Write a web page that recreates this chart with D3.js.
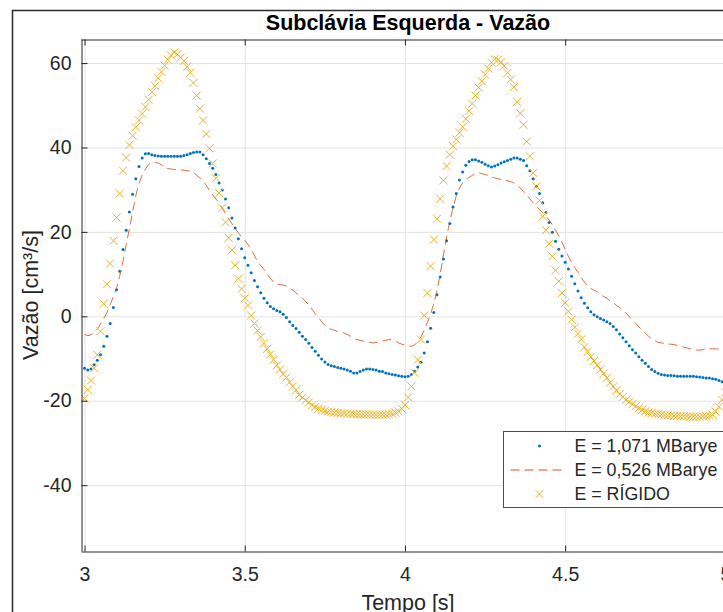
<!DOCTYPE html>
<html>
<head>
<meta charset="utf-8">
<script src="https://cdn.jsdelivr.net/npm/d3@7/dist/d3.min.js"></script>
<style>
  body { margin: 0; background: #fff; }
  svg { display: block; font-family: "Liberation Sans", Arial, Helvetica, sans-serif; }
</style>
</head>
<body>
<div id="chart"></div>
<script>
// sampling of the time axis [s]
var tStart = 3.0;
var tStep = 0.01;

// series values, one value per sample (3.00 .. 5.00 s)
var flowE1071 = [
  -12.3, -12.7, -12.5, -11.5, -10.4, -9.1, -7.1, -4.7, -1.7, 2.1,
  6.3, 10.7, 15.8, 20.4, 24.7, 28.9, 32.6, 35.5, 37.5, 38.5,
  38.6, 38.3, 38.1, 38.0, 37.9, 37.9, 37.9, 37.9, 37.9, 37.9,
  37.9, 38.1, 38.3, 38.6, 38.8, 38.9, 38.9, 38.3, 37.3, 36.2,
  35.1, 33.6, 31.6, 29.9, 27.8, 25.7, 23.3, 20.9, 18.4, 16.0,
  13.9, 12.1, 10.3, 8.5, 7.0, 5.6, 4.3, 3.2, 2.3, 1.8,
  1.4, 1.1, 0.5, -0.3, -1.3, -2.2, -2.9, -3.8, -4.7, -5.5,
  -6.4, -7.4, -8.3, -9.2, -10.1, -10.8, -11.4, -11.7, -11.9, -12.1,
  -12.3, -12.5, -12.7, -13.0, -13.4, -13.4, -13.1, -12.7, -12.5, -12.5,
  -12.6, -12.7, -13.0, -13.1, -13.4, -13.6, -13.8, -13.9, -14.1, -14.2,
  -14.3, -14.2, -13.8, -13.0, -12.0, -10.9, -8.7, -6.0, -2.8, 0.9,
  5.1, 9.3, 13.6, 17.9, 22.0, 25.9, 29.1, 32.3, 34.2, 35.8,
  36.7, 37.1, 37.1, 36.8, 36.5, 36.0, 35.7, 35.4, 35.6, 35.9,
  36.3, 36.6, 36.9, 37.2, 37.5, 37.5, 37.2, 36.9, 35.7, 34.5,
  32.6, 30.8, 29.1, 26.9, 24.6, 22.2, 19.9, 17.8, 15.9, 14.3,
  12.8, 11.2, 9.5, 7.7, 6.0, 4.4, 3.1, 2.0, 1.1, 0.4,
  -0.1, -0.5, -0.9, -1.3, -1.7, -2.4, -3.2, -4.2, -5.1, -6.0,
  -7.0, -7.9, -8.7, -9.6, -10.4, -11.1, -11.9, -12.6, -13.1, -13.5,
  -13.8, -13.9, -14.0, -14.0, -14.1, -14.2, -14.2, -14.2, -14.2, -14.2,
  -14.2, -14.3, -14.4, -14.5, -14.6, -14.6, -14.8, -14.9, -15.2, -15.5,
  -15.8
];

var flowE0526 = [
  -4.3, -4.6, -4.4, -3.8, -3.0, -1.8, -0.5, 0.9, 2.7, 4.7,
  6.7, 9.6, 13.0, 17.0, 20.7, 24.7, 28.6, 31.5, 33.4, 34.9,
  36.0, 36.5, 36.5, 36.3, 35.9, 35.3, 35.0, 34.9, 34.8, 34.8,
  34.7, 34.6, 34.5, 34.4, 34.0, 33.4, 32.8, 32.1, 31.0, 29.9,
  28.8, 27.8, 26.9, 25.6, 24.3, 23.1, 22.0, 20.9, 19.8, 18.8,
  18.0, 17.0, 15.9, 14.4, 13.0, 12.0, 11.1, 10.0, 9.0, 8.1,
  7.7, 7.5, 7.4, 7.2, 6.6, 6.2, 5.5, 4.9, 4.3, 3.5,
  2.7, 1.7, 0.6, -0.2, -1.3, -2.1, -2.7, -3.1, -3.3, -3.6,
  -3.7, -4.0, -4.3, -4.7, -5.2, -5.5, -5.7, -5.9, -6.1, -6.2,
  -6.3, -6.2, -6.1, -5.8, -5.7, -5.5, -5.6, -5.9, -6.3, -6.6,
  -6.8, -7.0, -7.1, -6.8, -6.0, -4.9, -3.2, -1.5, 0.5, 3.0,
  6.0, 10.0, 14.5, 18.8, 22.5, 25.7, 28.5, 30.4, 31.6, 32.3,
  32.9, 33.4, 33.8, 34.0, 33.8, 33.6, 33.4, 33.0, 32.8, 32.6,
  32.4, 32.3, 32.1, 31.9, 31.6, 31.0, 30.4, 29.6, 28.8, 27.8,
  26.9, 26.1, 25.3, 24.5, 23.7, 22.8, 21.7, 20.4, 19.1, 17.6,
  15.8, 14.2, 12.8, 11.5, 10.4, 9.2, 8.1, 7.1, 6.6, 6.2,
  5.8, 5.2, 4.7, 4.3, 3.7, 3.2, 2.6, 2.1, 1.5, 0.8,
  -0.1, -0.9, -1.7, -2.5, -3.2, -4.0, -4.7, -5.4, -5.8, -6.2,
  -6.3, -6.4, -6.6, -6.6, -6.7, -6.9, -7.0, -7.3, -7.5, -7.7,
  -7.9, -8.0, -8.0, -7.9, -7.7, -7.7, -7.7, -7.7, -7.8, -7.9,
  -8.0
];

var flowRigid = [
  -19.5, -17.4, -15.2, -12.3, -9.1, -3.5, 3.0, 7.6, 12.5, 17.9,
  23.4, 29.1, 34.5, 37.6, 40.6, 42.8, 44.8, 46.4, 48.0, 49.6,
  51.3, 53.1, 54.6, 56.4, 57.9, 59.4, 60.8, 61.8, 62.5, 62.1,
  61.3, 60.5, 59.1, 57.7, 55.3, 52.3, 49.2, 46.4, 43.2, 39.8,
  36.2, 32.7, 29.2, 25.7, 22.3, 18.6, 15.7, 12.1, 8.9, 6.5,
  4.3, 2.6, 0.2, -1.7, -3.4, -4.9, -6.4, -7.7, -9.0, -10.3,
  -11.6, -12.6, -13.7, -14.5, -15.6, -16.6, -17.5, -18.6, -19.2, -19.9,
  -20.4, -21.1, -21.5, -21.9, -22.2, -22.4, -22.6, -22.7, -22.8, -22.9,
  -23.0, -23.0, -23.1, -23.1, -23.1, -23.2, -23.2, -23.2, -23.2, -23.3,
  -23.3, -23.3, -23.3, -23.3, -23.3, -23.2, -23.1, -22.8, -22.5, -21.9,
  -21.0, -19.2, -16.6, -13.4, -10.3, -5.5, 0.2, 5.5, 11.9, 18.2,
  23.1, 27.8, 32.2, 35.6, 38.3, 40.3, 41.9, 43.5, 44.9, 46.8,
  48.6, 50.4, 52.3, 54.2, 55.7, 57.3, 58.7, 60.1, 60.9, 60.8,
  60.2, 59.3, 57.7, 56.1, 54.3, 50.8, 48.1, 45.4, 41.4, 37.9,
  34.0, 30.8, 27.4, 23.7, 20.4, 17.2, 14.2, 10.9, 8.3, 5.5,
  3.2, 1.2, -0.8, -2.6, -4.1, -5.5, -7.3, -8.4, -9.6, -10.6,
  -11.6, -12.6, -13.6, -14.6, -15.7, -16.6, -17.6, -18.4, -19.1, -19.8,
  -20.3, -20.8, -21.3, -21.8, -22.2, -22.5, -22.8, -22.9, -23.1, -23.2,
  -23.3, -23.4, -23.5, -23.5, -23.6, -23.6, -23.7, -23.7, -23.7, -23.8,
  -23.8, -23.8, -23.8, -23.7, -23.6, -23.5, -23.3, -22.6, -21.4, -19.8,
  -18.0
];

// tick labels
var xTicks = [3, 3.5, 4, 4.5, 5];
var yTicks = [-40, -20, 0, 20, 40, 60];

// legend labels
var seriesNames = ["E = 1,071 MBarye", "E = 0,526 MBarye", "E = RÍGIDO"];

function init() {

    //width and height of the page
    var w = 723;
    var h = 612;

    //plot box (right edge runs past the window, as in the picture)
    var left = 81, right = 735, top = 39, bottom = 551;

    var axisColor = "#262626";
    var gridColor = "#e3e3e3";
    var blue = "#0072BD", orange = "#D95319", yellow = "#EDB120";

    var xScale = d3.scaleLinear().domain([2.989, 5.03]).range([left, right]);
    var yScale = d3.scaleLinear().domain([-55.6, 65.7]).range([bottom, top]);

    //plain hyphen for negative numbers, like the original
    var plainFormat = function (d) { return String(d); };

    //pair each value with its time
    function toPoints(values) {
        return values.map(function (v, i) {
            return { t: tStart + i * tStep, v: v };
        });
    }
    var blueData = toPoints(flowE1071);
    var orangeData = toPoints(flowE0526);
    var yellowData = toPoints(flowRigid);

    var svg = d3.select("#chart")
        .append("svg")
        .attr("width", w)
        .attr("height", h);

    //figure frame
    svg.append("line")
        .attr("x1", 12.5).attr("x2", 12.5).attr("y1", 10).attr("y2", h)
        .attr("stroke", "#2b2b2b").attr("stroke-width", 1.5);
    svg.append("line")
        .attr("x1", 12).attr("x2", w).attr("y1", 10.5).attr("y2", 10.5)
        .attr("stroke", "#2b2b2b").attr("stroke-width", 1.5);

    svg.append("defs").append("clipPath")
        .attr("id", "plotClip")
        .append("rect")
        .attr("x", left).attr("y", top)
        .attr("width", right - left).attr("height", bottom - top);

    //grid lines
    svg.append("g")
        .selectAll("line")
        .data(xTicks)
        .enter().append("line")
        .attr("x1", function (d) { return xScale(d) + 0.5; })
        .attr("x2", function (d) { return xScale(d) + 0.5; })
        .attr("y1", top).attr("y2", bottom)
        .attr("stroke", gridColor).attr("stroke-width", 1);
    svg.append("g")
        .selectAll("line")
        .data(yTicks)
        .enter().append("line")
        .attr("y1", function (d) { return yScale(d) + 0.5; })
        .attr("y2", function (d) { return yScale(d) + 0.5; })
        .attr("x1", left).attr("x2", right)
        .attr("stroke", gridColor).attr("stroke-width", 1);

    var plot = svg.append("g").attr("clip-path", "url(#plotClip)");

    //E = 1,071 MBarye : dots
    plot.append("g")
        .selectAll("circle")
        .data(blueData)
        .enter().append("circle")
        .attr("cx", function (d) { return xScale(d.t); })
        .attr("cy", function (d) { return yScale(d.v); })
        .attr("r", 1.5)
        .attr("fill", blue);

    //E = 0,526 MBarye : dashed line
    var line = d3.line()
        .x(function (d) { return xScale(d.t); })
        .y(function (d) { return yScale(d.v); });

    plot.append("path")
        .datum(orangeData)
        .attr("d", line)
        .attr("fill", "none")
        .attr("stroke", orange)
        .attr("stroke-opacity", 0.85)
        .attr("stroke-width", 1)
        .attr("stroke-dasharray", "9,5");

    //rigid wall : crosses
    var cross = "M-4,-4L4,4M-4,4L4,-4";
    plot.append("g")
        .selectAll("path")
        .data(yellowData)
        .enter().append("path")
        .attr("transform", function (d) { return "translate(" + xScale(d.t) + "," + yScale(d.v) + ")"; })
        .attr("d", cross)
        .attr("fill", "none")
        .attr("stroke", yellow)
        .attr("stroke-width", 1);

    //axes with inward ticks
    var xAxis = d3.axisBottom(xScale)
        .tickValues(xTicks)
        .tickFormat(plainFormat)
        .tickSizeInner(-6)
        .tickSizeOuter(0)
        .tickPadding(16);
    var yAxis = d3.axisLeft(yScale)
        .tickValues(yTicks)
        .tickFormat(plainFormat)
        .tickSizeInner(-6)
        .tickSizeOuter(0)
        .tickPadding(10);

    var gx = svg.append("g")
        .attr("transform", "translate(0," + (bottom + 0.5) + ")")
        .call(xAxis);
    var gy = svg.append("g")
        .attr("transform", "translate(" + (left + 0.5) + ",0)")
        .call(yAxis);

    //top and right sides of the box
    var gTop = svg.append("g")
        .attr("transform", "translate(0," + (top + 0.5) + ")")
        .call(d3.axisTop(xScale).tickValues(xTicks).tickFormat("").tickSizeInner(-6).tickSizeOuter(0));
    var gRight = svg.append("g")
        .attr("transform", "translate(" + (right + 0.5) + ",0)")
        .call(d3.axisRight(yScale).tickValues(yTicks).tickFormat("").tickSizeInner(-6).tickSizeOuter(0));

    [gx, gy, gTop, gRight].forEach(function (g) {
        g.select(".domain").attr("stroke", axisColor);
        g.selectAll(".tick line").attr("stroke", axisColor);
        g.selectAll("text")
            .attr("fill", axisColor)
            .style("font-family", "'Liberation Sans', Arial, sans-serif")
            .style("font-size", "19.5px");
    });

    //title and axis labels
    svg.append("text")
        .attr("x", (left + right) / 2)
        .attr("y", 30)
        .attr("text-anchor", "middle")
        .attr("fill", "#000")
        .style("font-size", "21.5px")
        .style("font-weight", "bold")
        .text("Subclávia Esquerda - Vazão");

    svg.append("text")
        .attr("x", (left + right) / 2)
        .attr("y", 610)
        .attr("text-anchor", "middle")
        .attr("fill", axisColor)
        .style("font-size", "21.5px")
        .text("Tempo [s]");

    svg.append("text")
        .attr("transform", "translate(38," + ((top + bottom) / 2) + ") rotate(-90)")
        .attr("text-anchor", "middle")
        .attr("fill", axisColor)
        .style("font-size", "21.5px")
        .text("Vazão [cm³/s]");

    //legend
    var lg = svg.append("g").attr("transform", "translate(503.5,431.5)");
    lg.append("rect")
        .attr("width", 240).attr("height", 76)
        .attr("fill", "#fff")
        .attr("stroke", "#4d4d4d").attr("stroke-width", 1);

    var rowY = [14.5, 38.5, 62.5];
    lg.append("circle").attr("cx", 36).attr("cy", rowY[0]).attr("r", 1.5).attr("fill", blue);
    lg.append("line")
        .attr("x1", 7).attr("x2", 62).attr("y1", rowY[1]).attr("y2", rowY[1])
        .attr("stroke", orange).attr("stroke-width", 1)
        .attr("stroke-dasharray", "9,5");
    lg.append("path")
        .attr("transform", "translate(36," + rowY[2] + ")")
        .attr("d", cross)
        .attr("fill", "none").attr("stroke", yellow).attr("stroke-width", 1);

    lg.selectAll("text.lab")
        .data(seriesNames)
        .enter().append("text")
        .attr("class", "lab")
        .attr("x", 71)
        .attr("y", function (d, i) { return rowY[i]; })
        .attr("dy", "0.35em")
        .attr("fill", axisColor)
        .style("font-size", "17.8px")
        .text(function (d) { return d; });
}

window.onload = init;
</script>
</body>
</html>
